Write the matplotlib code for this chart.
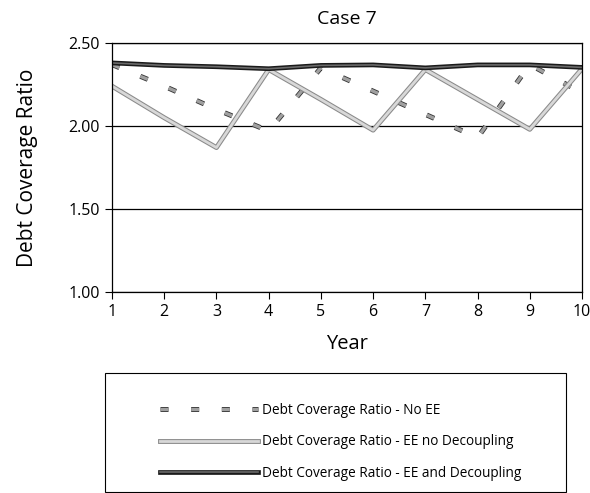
import numpy as np
import matplotlib.pyplot as plt
import matplotlib.patheffects as pe
from matplotlib.patches import Rectangle

plt.rcParams['font.family'] = ['Open Sans', 'DejaVu Sans']

# Data
years = [1, 2, 3, 4, 5, 6, 7, 8, 9, 10]
no_ee = [2.37, 2.24, 2.10, 1.97, 2.35, 2.21, 2.07, 1.93, 2.37, 2.20]
ee_no_dec = [2.24, 2.05, 1.87, 2.34, 2.16, 1.975, 2.34, 2.16, 1.98, 2.345]
ee_dec = [2.38, 2.365, 2.357, 2.345, 2.365, 2.368, 2.35, 2.368, 2.368, 2.353]
yticks = [1.00, 1.50, 2.00, 2.50]
labels = ['Debt Coverage Ratio - No EE',
          'Debt Coverage Ratio - EE no Decoupling',
          'Debt Coverage Ratio - EE and Decoupling']

fig = plt.figure(figsize=(5.9, 4.93), dpi=100)
ax = fig.add_axes([112/590, 1-292/493, (582-112)/590, (292-43)/493])

l1, = ax.plot(years, no_ee, color='#a0a0a0', lw=2.4, ls=(0, (2.4, 6.8)),
              path_effects=[pe.Stroke(linewidth=3.6, foreground='#333333'), pe.Normal()])
l2, = ax.plot(years, ee_no_dec, color='#d8d8d8', lw=2.0,
              path_effects=[pe.Stroke(linewidth=3.5, foreground='#8a8a8a'), pe.Normal()])
l3, = ax.plot(years, ee_dec, color='#6a6a6a', lw=1.2,
              path_effects=[pe.Stroke(linewidth=3.4, foreground='#1a1a1a'), pe.Normal()])

ax.set_xlim(1, 10)
ax.set_ylim(1.0, 2.5)
ax.set_xticks(years)
ax.set_yticks(yticks)
ax.set_yticklabels(['%.2f' % v for v in yticks], fontsize=11.5)
ax.tick_params(axis='x', labelsize=11.5, direction='out', length=5, width=0.8)
ax.tick_params(axis='y', direction='out', length=5, width=0.8)
ax.yaxis.grid(True, color='black', lw=0.9)
for s in ax.spines.values():
    s.set_linewidth(0.9)
ax.set_title('Case 7', fontsize=14, pad=14)
ax.set_xlabel('Year', fontsize=14.5, labelpad=10)
ax.set_ylabel('Debt Coverage Ratio', fontsize=15, labelpad=22)

# legend box
fig.patches.append(Rectangle((105/590, 0.002), (566-105)/590, (492-373)/493,
                             transform=fig.transFigure, fill=False, ec='black', lw=0.8))
fig.legend([l1, l2, l3], labels, loc='upper left', bbox_to_anchor=(160/590, 1-403/493),
           frameon=False, fontsize=9.8, handlelength=7.2, handletextpad=0.3,
           labelspacing=1.2, borderaxespad=0, borderpad=0)

fig.savefig('out.png', dpi=100)
